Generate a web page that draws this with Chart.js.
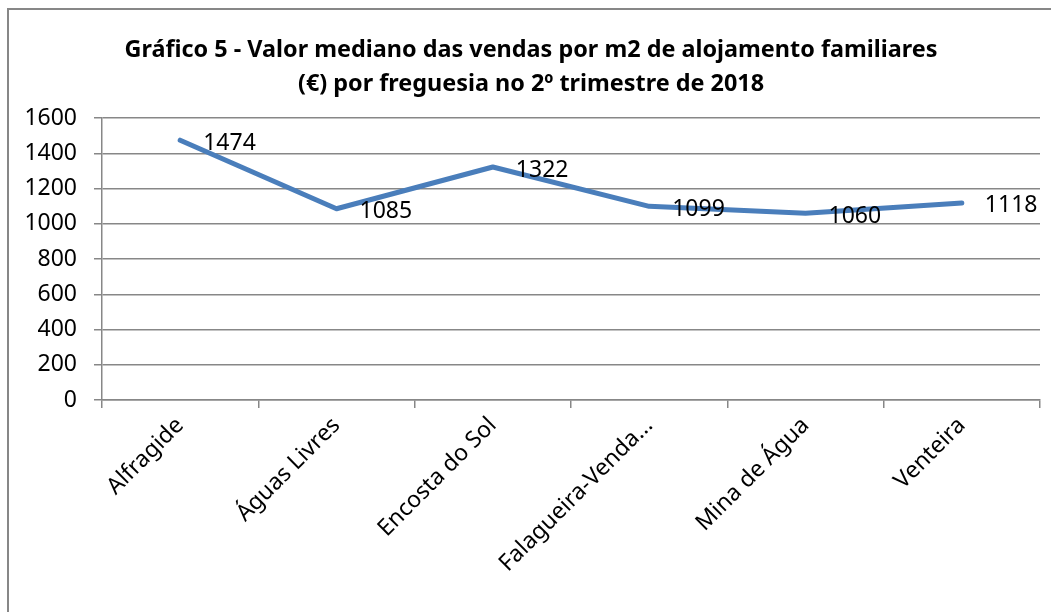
<!DOCTYPE html>
<html>
<head>
<meta charset="utf-8">
<script src="https://cdn.jsdelivr.net/npm/chart.js@4/dist/chart.umd.min.js"></script>
<style>
  body { margin: 0; background: #fff; }
  canvas { display: block; }
</style>
</head>
<body>
<canvas id="grafico" width="1051" height="612"></canvas>
<script>
// dados do gráfico
const freguesias = ['Alfragide', 'Águas Livres', 'Encosta do Sol', 'Falagueira-Venda...', 'Mina de Água', 'Venteira'];
const valores = [1474, 1085, 1322, 1099, 1060, 1118];
const tituloLinhas = ['Gráfico 5 - Valor mediano das vendas por m2 de alojamento familiares', '(€) por freguesia no 2º trimestre de 2018'];
const yMin = 0, yMax = 1600, yPasso = 200;

const fonte = '"Noto Sans", sans-serif';

// moldura cinzenta e título
const molduraTitulo = {
    id: 'molduraTitulo',
    beforeDraw(chart) {
        const c = chart.ctx;
        c.save();
        c.fillStyle = '#fff';
        c.fillRect(0, 0, chart.width, chart.height);
        c.strokeStyle = '#878787';
        c.lineWidth = 2;
        c.beginPath();
        c.moveTo(8, chart.height);
        c.lineTo(8, 9);
        c.lineTo(chart.width, 9);
        c.stroke();
        c.fillStyle = '#000';
        c.font = 'bold 23.4px ' + fonte;
        c.textAlign = 'center';
        c.textBaseline = 'middle';
        c.fillText(tituloLinhas[0], 531, 50);
        c.fillText(tituloLinhas[1], 531, 84);
        c.restore();
    }
};

// rótulos de dados à direita de cada ponto
const rotulosDados = {
    id: 'rotulosDados',
    afterDatasetsDraw(chart) {
        const c = chart.ctx;
        const meta = chart.getDatasetMeta(0);
        c.save();
        c.fillStyle = '#000';
        c.font = '23px ' + fonte;
        c.textAlign = 'left';
        c.textBaseline = 'middle';
        meta.data.forEach((pt, i) => {
            c.fillText(String(valores[i]), pt.x + 23, pt.y + 3);
        });
        c.restore();
    }
};

const ctx = document.getElementById('grafico').getContext('2d');
new Chart(ctx, {
    type: 'line',
    data: {
        labels: freguesias,
        datasets: [{
            data: valores,
            borderColor: '#4a7ebb',
            borderWidth: 5,
            borderCapStyle: 'round',
            borderJoinStyle: 'round',
            pointRadius: 0,
            tension: 0,
            fill: false
        }]
    },
    options: {
        responsive: false,
        animation: false,
        devicePixelRatio: 1,
        layout: { padding: { top: 118, right: 11, bottom: 0, left: 0 } },
        plugins: {
            legend: { display: false },
            title: { display: false },
            tooltip: { enabled: false }
        },
        scales: {
            x: {
                offset: true,
                grid: {
                    offset: true,
                    drawOnChartArea: false,
                    drawTicks: true,
                    tickLength: 8,
                    color: '#878787',
                    lineWidth: 1.5
                },
                border: { color: '#878787', width: 1.5 },
                ticks: {
                    color: '#000',
                    font: { family: fonte, size: 23 },
                    minRotation: 45,
                    maxRotation: 45,
                    autoSkip: false,
                    padding: 4
                },
                afterFit(scale) { scale.height = 212; }
            },
            y: {
                min: yMin,
                max: yMax,
                ticks: {
                    stepSize: yPasso,
                    color: '#000',
                    font: { family: fonte, size: 23 },
                    padding: 17,
                    callback: (v) => String(v)
                },
                grid: {
                    color: '#878787',
                    lineWidth: 1.5,
                    tickLength: 8
                },
                border: { color: '#878787', width: 1.5 },
                afterFit(scale) { scale.width = 102; }
            }
        }
    },
    plugins: [molduraTitulo, rotulosDados]
});
</script>
</body>
</html>
